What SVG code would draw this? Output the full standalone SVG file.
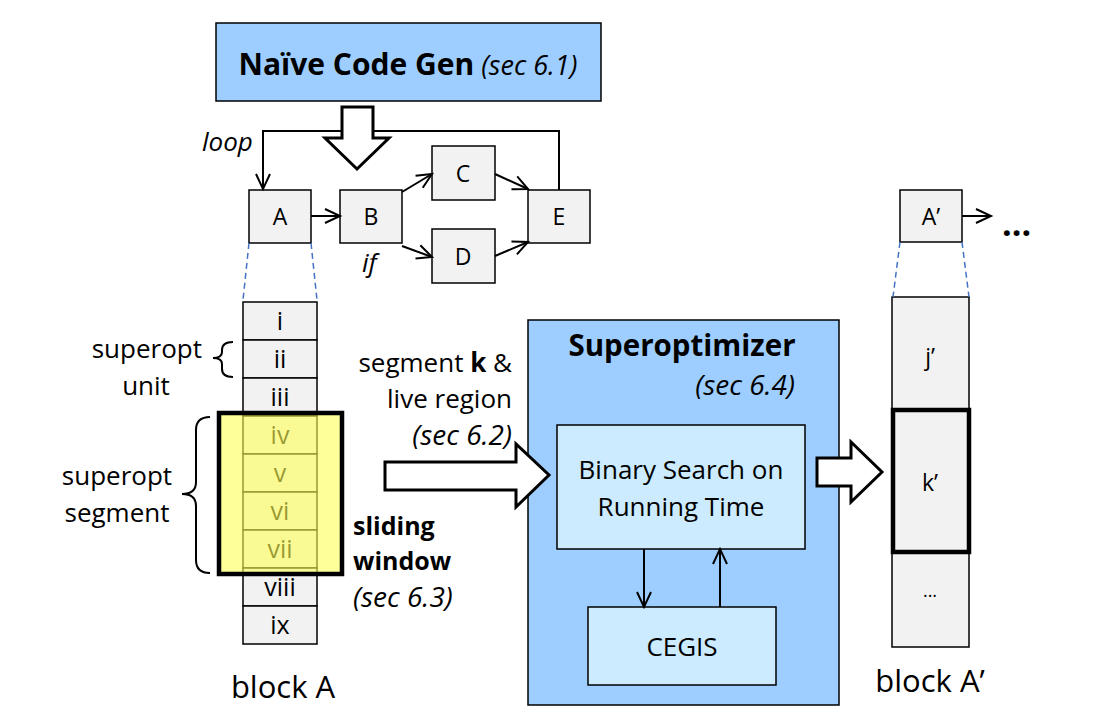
<svg xmlns="http://www.w3.org/2000/svg" width="1116" height="726" viewBox="0 0 1116 726">
<defs>
<marker id="oa" markerUnits="userSpaceOnUse" markerWidth="20" markerHeight="20" refX="17" refY="10" orient="auto">
<path d="M2,3 L17,10 L2,17" fill="none" stroke="#000" stroke-width="2"/>
</marker>
</defs>
<style>
text{font-family:"Open Sans","Liberation Sans",sans-serif;fill:#000}
.nd{fill:#F2F2F2;stroke:#000;stroke-width:1.5}
.c{stroke:#000;stroke-width:2;fill:none}
.hol{fill:#fff;stroke:#000;stroke-width:3;stroke-linejoin:miter}
.dash{stroke:#4472C4;stroke-width:1.5;stroke-dasharray:6,4;fill:none}
.lbl{font-size:23px;text-anchor:middle}
.cl{font-size:25px;text-anchor:middle}
.t26{font-size:26px}
.s28{font-size:28px;font-style:italic}
.it{font-style:italic}
.b{font-weight:bold}
</style>
<rect width="1116" height="726" fill="#fff"/>

<g id="codegen">
<rect x="216" y="23" width="385" height="78" fill="#9DCEFF" stroke="#000" stroke-width="1.5"/>
<text x="408" y="75" text-anchor="middle"><tspan class="b" font-size="30">Naïve Code Gen</tspan><tspan class="it" font-size="27"> (sec 6.1)</tspan></text>
</g>

<g id="labels-cfg">
<text x="202" y="151" class="it" font-size="26">loop</text>
<text x="362" y="272" class="it" font-size="26">if</text>
</g>

<g id="nodeA"><rect class="nd" x="249" y="190" width="62" height="53"/><text class="lbl" x="280" y="225">A</text></g>
<g id="nodeB"><rect class="nd" x="340" y="190" width="62" height="53"/><text class="lbl" x="371" y="225">B</text></g>
<g id="nodeC"><rect class="nd" x="432" y="146" width="63" height="54"/><text class="lbl" x="463" y="182">C</text></g>
<g id="nodeD"><rect class="nd" x="432" y="229" width="63" height="54"/><text class="lbl" x="463" y="265">D</text></g>
<g id="nodeE"><rect class="nd" x="528" y="190" width="62" height="53"/><text class="lbl" x="559" y="225">E</text></g>
<g id="nodeA2"><rect class="nd" x="900" y="190" width="62" height="52"/><text class="lbl" x="931" y="225">A’</text></g>
<g id="more"><text x="1002" y="236" class="b" font-size="34">...</text></g>

<g id="blockA">
<rect class="nd" x="243" y="302" width="74" height="38"/><text class="cl" x="280" y="330">i</text>
<rect class="nd" x="243" y="340" width="74" height="38"/><text class="cl" x="280" y="368">ii</text>
<rect class="nd" x="243" y="378" width="74" height="38"/><text class="cl" x="280" y="406">iii</text>
<rect class="nd" x="243" y="416" width="74" height="38"/><text class="cl" x="280" y="444">iv</text>
<rect class="nd" x="243" y="454" width="74" height="38"/><text class="cl" x="280" y="482">v</text>
<rect class="nd" x="243" y="492" width="74" height="38"/><text class="cl" x="280" y="520">vi</text>
<rect class="nd" x="243" y="530" width="74" height="38"/><text class="cl" x="280" y="558">vii</text>
<rect class="nd" x="243" y="568" width="74" height="38"/><text class="cl" x="280" y="596">viii</text>
<rect class="nd" x="243" y="606" width="74" height="38"/><text class="cl" x="280" y="634">ix</text>
<text x="283" y="698" text-anchor="middle" font-size="31">block A</text>
</g>

<g id="window">
<rect x="219" y="413" width="123" height="161" fill="#FFFF55" fill-opacity="0.6" stroke="#000" stroke-width="4.5"/>
</g>

<g id="braces">
<path class="c" stroke-width="1.5" d="M233,342 Q222,342 222,350 L222,352 Q222,358 213,358 Q222,358 222,364 L222,369 Q222,377 233,377"/>
<path class="c" stroke-width="1.5" d="M210,417 Q196,417 196,430 L196,482 Q196,494 182,494 Q196,494 196,506 L196,560 Q196,573 210,573"/>
</g>

<g id="annotations">
<text x="202" y="358" text-anchor="end" class="t26">superopt</text>
<text x="146" y="395" text-anchor="middle" class="t26">unit</text>
<text x="117" y="485" text-anchor="middle" class="t26">superopt</text>
<text x="117" y="522" text-anchor="middle" class="t26">segment</text>
<text x="512" y="372" text-anchor="end" class="t26">segment <tspan class="b">k</tspan> &amp;</text>
<text x="512" y="408" text-anchor="end" class="t26">live region</text>
<text x="512" y="445" text-anchor="end" class="s28">(sec 6.2)</text>
<text x="353" y="535" class="b" font-size="25">sliding</text>
<text x="353" y="570" class="b" font-size="25">window</text>
<text x="353" y="607" class="s28">(sec 6.3)</text>
</g>

<g id="superopt">
<rect x="528" y="320" width="311" height="385" fill="#9DCEFF" stroke="#000" stroke-width="1.5"/>
<text x="682" y="356" text-anchor="middle" class="b" font-size="29.5">Superoptimizer</text>
<text x="795" y="395" text-anchor="end" class="s28">(sec 6.4)</text>
</g>

<g id="binsearch">
<rect x="557" y="425" width="248" height="124" fill="#CCEBFF" stroke="#000" stroke-width="1.5"/>
<text x="681" y="479" text-anchor="middle" font-size="26">Binary Search on</text>
<text x="681" y="516" text-anchor="middle" font-size="26">Running Time</text>
</g>

<g id="cegis">
<rect x="588" y="607" width="188" height="78" fill="#CCEBFF" stroke="#000" stroke-width="1.5"/>
<text x="682" y="656" text-anchor="middle" font-size="26">CEGIS</text>
</g>

<g id="blockA2">
<rect class="nd" x="892" y="297" width="77" height="350"/>
<text class="lbl" x="930" y="365">j’</text>
<rect x="893" y="410" width="76" height="142" fill="#F2F2F2" stroke="#000" stroke-width="4.5"/>
<text class="lbl" x="930" y="491">k’</text>
<text x="930" y="597" text-anchor="middle" font-size="18">...</text>
<text x="930" y="692" text-anchor="middle" font-size="31">block A’</text>
</g>

<g id="connectors">
<polyline class="c" points="559,190 559,131 263,131 263,189" marker-end="url(#oa)"/>
<polygon class="hol" points="342,107 373,107 373,138 389,138 357,169 325,138 342,138"/>
<line class="c" x1="311" y1="216" x2="340" y2="216" marker-end="url(#oa)"/>
<line class="c" x1="402" y1="192" x2="432" y2="174" marker-end="url(#oa)"/>
<line class="c" x1="402" y1="246" x2="432" y2="257" marker-end="url(#oa)"/>
<line class="c" x1="495" y1="174" x2="528" y2="189" marker-end="url(#oa)"/>
<line class="c" x1="495" y1="256" x2="528" y2="242" marker-end="url(#oa)"/>
<line class="c" x1="962" y1="216" x2="991" y2="216" marker-end="url(#oa)"/>
<line class="dash" x1="249" y1="243" x2="243" y2="300"/>
<line class="dash" x1="311" y1="243" x2="317" y2="300"/>
<line class="dash" x1="900" y1="242" x2="893" y2="297"/>
<line class="dash" x1="962" y1="242" x2="969" y2="297"/>
<polygon class="hol" points="385,462 516,462 516,444 549,475 516,507 516,490 385,490"/>
<polygon class="hol" points="817,458 851,458 851,442 882,472 851,502 851,486 817,486"/>
<line class="c" x1="644" y1="549" x2="644" y2="607" marker-end="url(#oa)"/>
<line class="c" x1="720" y1="607" x2="720" y2="549" marker-end="url(#oa)"/>
</g>
</svg>
